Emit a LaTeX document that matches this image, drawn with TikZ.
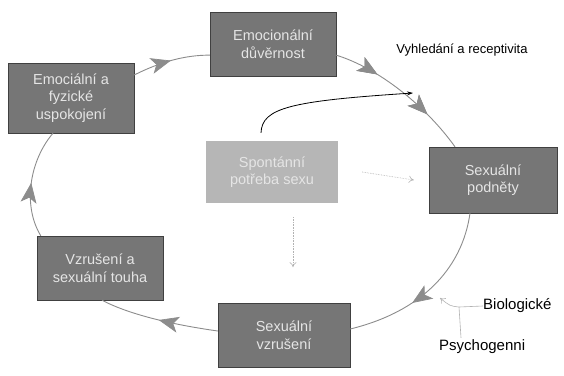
\documentclass[tikz,border=0pt]{standalone}
\usepackage{fontspec}
\setmainfont{Liberation Sans}
\usetikzlibrary{arrows.meta,decorations.markings}
\definecolor{krabice}{RGB}{118,118,118}
\definecolor{svetla}{RGB}{182,182,182}
\definecolor{cara}{RGB}{140,140,140}
\definecolor{hrot}{RGB}{192,192,192}
\begin{document}
\begin{tikzpicture}[x=1pt,y=-1pt,
  faze/.style={draw=black!75,fill=krabice,text=white!90!black,align=center,
    minimum width=126pt,minimum height=64pt,inner sep=2pt,
    font=\fontsize{14.5}{17.5}\selectfont},
  spont/.style={faze,draw=none,fill=svetla},
  popis/.style={font=\fontsize{13}{16}\selectfont,inner sep=0pt},
  cyklus/.style={draw=cara,line width=0.9pt},
  hroty/.style={postaction={decorate},decoration={markings,
    mark=at position #1 with {\arrow[cara,fill=hrot,line width=0.7pt]{Stealth[length=20pt,width=16pt,inset=5pt]}}}},
  slaba/.style={draw=black!30,line width=0.6pt,-{To[length=5pt,width=7pt]}}]
\useasboundingbox (0,0) rectangle (564,375);

\node[faze] (duv) at (273,44) {Emocionální\\důvěrnost};
\node[faze,minimum height=70pt] (usp) at (71,98) {Emociální a\\fyzické\\uspokojení};
\node[spont,minimum width=132pt,minimum height=62pt] (spo) at (272,172) {Spontánní\\potřeba sexu};
\node[faze,minimum width=128pt,minimum height=66pt] (pod) at (493,180) {Sexuální\\podněty};
\node[faze] (vzr) at (100,268) {Vzrušení a\\sexuální touha};
\node[faze,minimum width=132pt] (svz) at (284,335) {Sexuální\\vzrušení};

\node[popis] (vyh) at (462,50) {Vyhledání a receptivita};
\node[popis,anchor=west,font=\fontsize{15}{18}\selectfont] (bio) at (483,306) {Biologické};
\node[popis,anchor=west,font=\fontsize{15}{18}\selectfont] (psy) at (439,347) {Psychogenni};

\path[cyklus,hroty=0.5] (usp.20) .. controls (160,62) and (185,55) .. (duv.190);
\path[cyklus,hroty=0.3,hroty=0.72] (duv.-10) .. controls (378,68) and (425,105) .. ([xshift=-38pt]pod.north);
\path[cyklus,hroty=0.62] ([xshift=-23pt]pod.south) .. controls (462,270) and (420,312) .. ([yshift=6pt]svz.east);
\path[cyklus,hroty=0.5] ([yshift=4pt]svz.west) .. controls (175,325) and (130,315) .. ([xshift=2pt]vzr.south);
\path[cyklus,hroty=0.5] ([xshift=4pt]vzr.north west) .. controls (22,205) and (30,160) .. ([xshift=-18pt]usp.south);

\draw[line width=0.8pt,-{Stealth[length=6pt,width=4pt]}] ([xshift=-11pt,yshift=8pt]spo.north) .. controls (262,108) and (290,101) .. (413,93);

\draw[slaba,densely dotted] ([xshift=24pt]spo.east) -- ([xshift=-15pt]pod.west);
\draw[slaba,densely dotted] ([xshift=21pt,yshift=-14pt]spo.south) -- ([xshift=21pt,yshift=-64pt]spo.south);

\coordinate (uzel) at (459,307);
\draw[slaba] (bio.west) -- (uzel) .. controls (450,306) .. (440,298);
\draw[draw=black!30,line width=0.6pt] ([xshift=22pt,yshift=2pt]psy.north west) -- (uzel);
\end{tikzpicture}
\end{document}
